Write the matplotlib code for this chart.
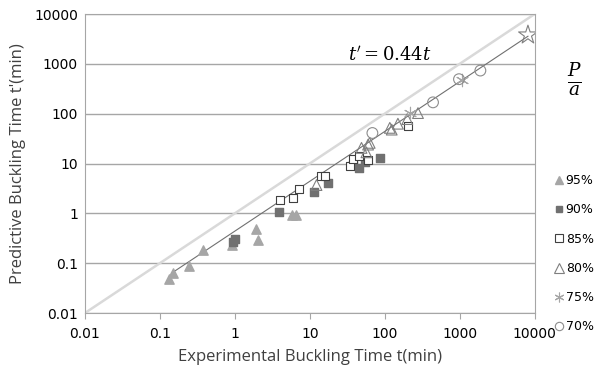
import numpy as np
import matplotlib
matplotlib.use('Agg')
import matplotlib.pyplot as plt
from matplotlib.lines import Line2D

# experimental t (min) and predicted t' (min) per load ratio P/a
p95_t = [0.133, 0.148, 0.244, 0.378, 0.91, 1.9, 2.05, 5.8, 6.65]
p95_tp = [0.049, 0.063, 0.088, 0.18, 0.23, 0.48, 0.29, 0.91, 0.93]
p90_t = [0.95, 1.02, 3.9, 11.4, 17.5, 38, 46, 54, 86.5]
p90_tp = [0.27, 0.30, 1.06, 2.67, 4.1, 9.5, 8.2, 10.6, 12.8]
p85_t = [4.0, 5.9, 7.2, 14, 16.2, 34, 37.8, 46, 60, 205]
p85_tp = [1.85, 2.03, 3.1, 5.6, 5.6, 8.8, 12.6, 14, 12, 57.5]
p80_t = [12.3, 49, 57, 60, 63, 117, 124, 150, 200, 278]
p80_tp = [3.7, 20.6, 16.8, 24, 26, 52, 48, 63, 78, 103]
p75_t = [215, 1060]
p75_tp = [105, 475]
p70_t = [68.5, 441, 980, 1890]
p70_tp = [41, 169, 493, 735]
star_t = [8150]
star_tp = [3800]

ratio = 0.44
fit_range = [0.143, 8150]
labels = ['95%', '90%', '85%', '80%', '75%', '70%']

fig = plt.figure(figsize=(5.94, 3.70), dpi=100)
ax = fig.add_axes([0.143, 0.154, 0.757, 0.808])

ax.set_xscale('log')
ax.set_yscale('log')
ax.set_xlim(0.01, 10000)
ax.set_ylim(0.01, 10000)

# grid and reference lines
ax.yaxis.grid(True, color='#a6a6a6', lw=1)
ax.set_axisbelow(True)
ax.plot([0.01, 10000], [0.01, 10000], color='#d9d9d9', lw=1.8, zorder=1)
xf = np.array(fit_range)
ax.plot(xf, ratio * xf, color='#707070', lw=0.8, zorder=2)

ax.scatter(p95_t, p95_tp, marker='^', s=45, color='#a6a6a6', edgecolors='#a6a6a6', zorder=3)
ax.scatter(p90_t, p90_tp, marker='s', s=32, color='#707070', edgecolors='#707070', zorder=3)
ax.scatter(p85_t, p85_tp, marker='s', s=40, facecolors='white', edgecolors='#404040', lw=0.8, zorder=3)
ax.scatter(p80_t, p80_tp, marker='^', s=60, facecolors='none', edgecolors='#7f7f7f', lw=0.8, zorder=3)
ax.scatter(p75_t, p75_tp, marker=(6, 2, 0), s=80, color='#a6a6a6', lw=0.8, zorder=3)
ax.scatter(p70_t, p70_tp, marker='o', s=60, facecolors='none', edgecolors='#8c8c8c', lw=0.8, zorder=3)
ax.scatter(star_t, star_tp, marker='*', s=200, facecolors='none', edgecolors='#7f7f7f', lw=0.8, zorder=3)

ax.text(117, 1500, r"$t' = 0.44t$", fontsize=13, ha='center', va='center',
        math_fontfamily='dejavuserif')

ticks = [0.01, 0.1, 1, 10, 100, 1000, 10000]
ticklabels = ['0.01', '0.1', '1', '10', '100', '1000', '10000']
ax.set_xticks(ticks)
ax.set_xticklabels(ticklabels)
ax.set_yticks(ticks)
ax.set_yticklabels(ticklabels)
ax.minorticks_off()
ax.tick_params(axis='x', length=4, color='#a6a6a6', labelsize=10, pad=6)
ax.tick_params(axis='y', length=0, labelsize=10, pad=5)
for s in ax.spines.values():
    s.set_color('#a6a6a6')

ax.set_xlabel('Experimental Buckling Time t(min)', fontsize=12, color='#404040', family='Open Sans', labelpad=6)
ax.set_ylabel("Predictive Buckling Time t'(min)", fontsize=12, color='#404040', family='Open Sans', labelpad=6)

# legend
handles = [
    Line2D([], [], ls='none', marker='^', ms=6, color='#a6a6a6'),
    Line2D([], [], ls='none', marker='s', ms=5, color='#707070'),
    Line2D([], [], ls='none', marker='s', ms=6, mfc='white', mec='#404040', mew=0.8),
    Line2D([], [], ls='none', marker='^', ms=7, mfc='none', mec='#7f7f7f', mew=0.8),
    Line2D([], [], ls='none', marker=(6, 2, 0), ms=7, color='#a6a6a6', mew=0.8),
    Line2D([], [], ls='none', marker='o', ms=6, mfc='none', mec='#8c8c8c', mew=0.8),
]
fig.legend(handles, labels, loc='upper left', bbox_to_anchor=(0.925, 0.546), frameon=False,
           handlelength=0.6, handletextpad=0.2, labelspacing=1.3,
           borderpad=0, prop={'size': 9})
fig.text(0.968, 0.785, r'$\frac{P}{a}$', fontsize=19, ha='center', va='center',
         math_fontfamily='dejavuserif')

fig.savefig('out.png', dpi=100)
